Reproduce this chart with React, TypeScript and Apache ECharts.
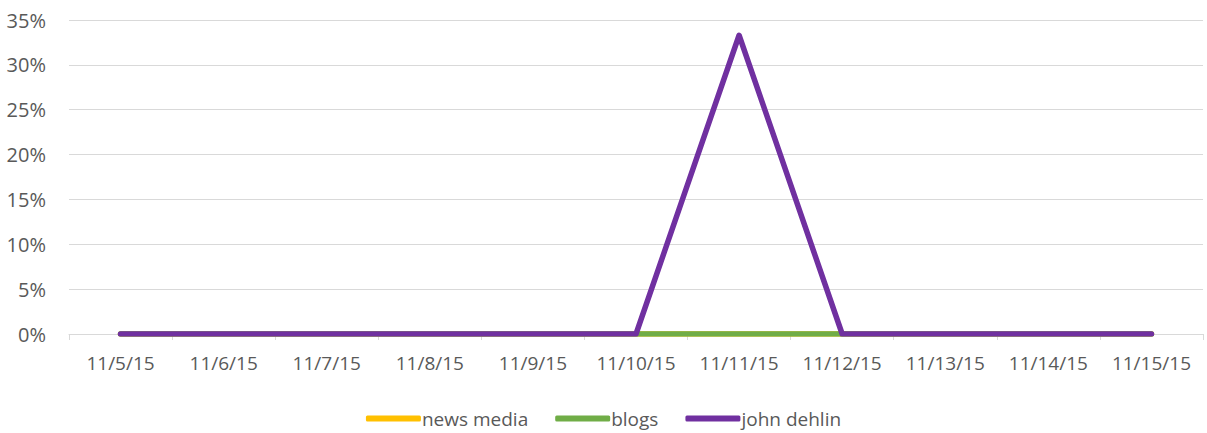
import React, { useEffect, useRef } from "react";
import * as echarts from "echarts";

const categories = ["11/5/15", "11/6/15", "11/7/15", "11/8/15", "11/9/15", "11/10/15", "11/11/15", "11/12/15", "11/13/15", "11/14/15", "11/15/15"];
const newsMedia = [0, 0, 0, 0, 0, 0, 0, 0, 0, 0, 0];
const blogs = [0, 0, 0, 0, 0, 0, 0, 0, 0, 0, 0];
const johnDehlin = [0, 0, 0, 0, 0, 0, 33.3, 0, 0, 0, 0];
const yTicks = [0, 5, 10, 15, 20, 25, 30, 35];

const FONT = "'Open Sans', 'Liberation Sans', sans-serif";

export default function App() {
  const ref = useRef<HTMLDivElement>(null);
  useEffect(() => {
    const chart = echarts.init(ref.current!, null, { renderer: "svg" });
    const mk = (name: string, data: number[], color: string) => ({
      name,
      type: "line",
      data,
      symbol: "none",
      lineStyle: { color, width: 5.5, cap: "round", join: "round" },
      itemStyle: { color },
    });
    chart.setOption({
      animation: false,
      textStyle: { fontFamily: FONT },
      grid: { left: 69, right: 4, top: 20, bottom: 99 },
      legend: {
        top: 404,
        left: "center",
        icon: "roundRect",
        itemWidth: 55,
        itemHeight: 6,
        itemGap: 27,
        textStyle: { color: "#595959", fontSize: 19, fontFamily: FONT, padding: [0, 0, 0, -4] },
        data: ["news media", "blogs", "john dehlin"],
      },
      xAxis: {
        type: "category",
        data: categories,
        boundaryGap: true,
        axisLine: { lineStyle: { color: "#d9d9d9", width: 1 } },
        axisTick: { show: true, length: 6, interval: 0, lineStyle: { color: "#d9d9d9" } },
        axisLabel: { color: "#595959", fontSize: 19, margin: 19, interval: 0, hideOverlap: false, fontFamily: FONT },
        splitLine: { show: false },
      },
      yAxis: {
        type: "value",
        min: yTicks[0],
        max: yTicks[yTicks.length - 1],
        interval: 5,
        axisLine: { show: false },
        axisTick: { show: false },
        axisLabel: { color: "#595959", fontSize: 20, margin: 23, formatter: "{value}%", fontFamily: FONT },
        splitLine: { lineStyle: { color: "#d9d9d9", width: 1 } },
      },
      series: [
        mk("news media", newsMedia, "#ffc000"),
        mk("blogs", blogs, "#70ad47"),
        mk("john dehlin", johnDehlin, "#7030a0"),
      ],
    });
    return () => chart.dispose();
  }, []);
  return <div ref={ref} style={{ position: "absolute", left: 0, top: 0, width: 1207, height: 433 }} />;
}
